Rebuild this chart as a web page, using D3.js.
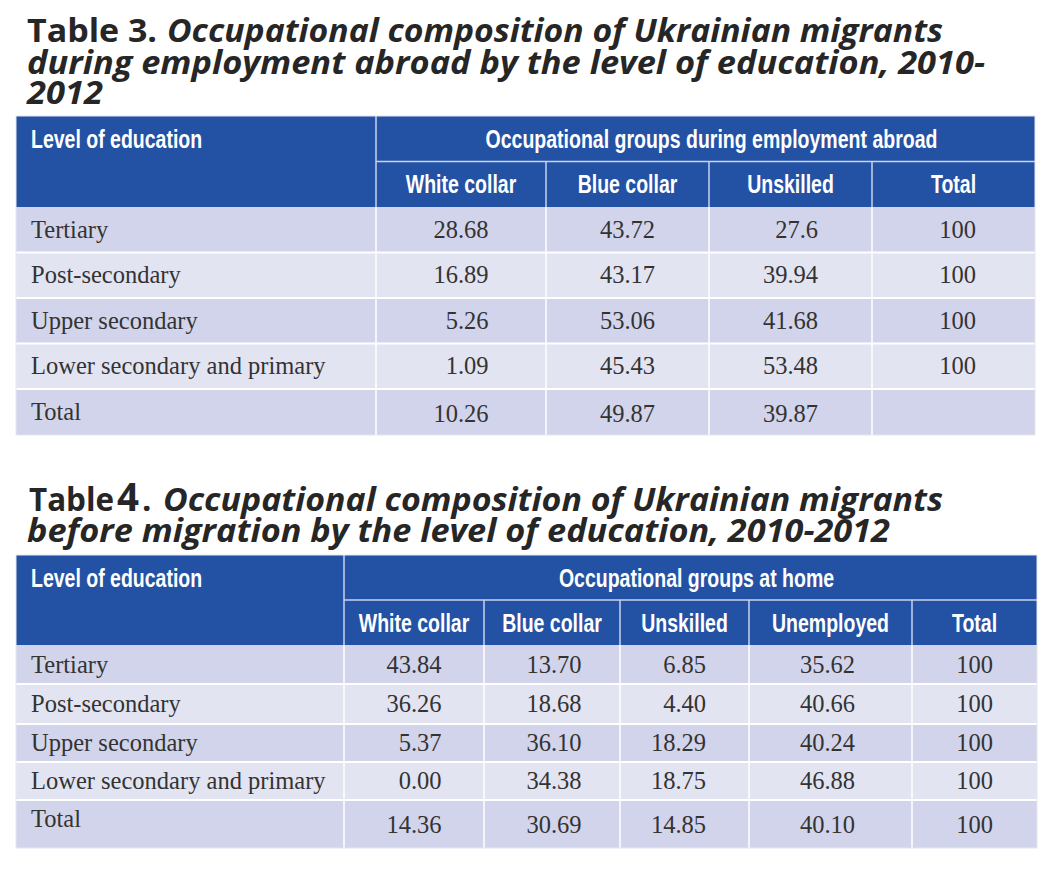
<!DOCTYPE html>
<html><head><meta charset="utf-8">
<script src="https://cdn.jsdelivr.net/npm/d3@7"></script>
<style>body{margin:0;background:#fff}</style>
</head><body><svg id="c" width="1059" height="877"></svg>
<script>
// ---------- Table 3 data ----------
const t3Label = "Table 3.";
const t3TitleLines = ["Occupational composition of Ukrainian migrants",
  "during employment abroad by the level of education, 2010-", "2012"];
const t3Group = "Occupational groups during employment abroad";
const t3Categories = ["Tertiary", "Post-secondary", "Upper secondary", "Lower secondary and primary", "Total"];
const t3Columns = ["White collar", "Blue collar", "Unskilled", "Total"];
const t3WhiteCollar = [28.68, 16.89, 5.26, 1.09, 10.26];
const t3BlueCollar = [43.72, 43.17, 53.06, 45.43, 49.87];
const t3Unskilled = [27.6, 39.94, 41.68, 53.48, 39.87];
const t3Total = [100, 100, 100, 100, null];

// ---------- Table 4 data ----------
const t4Label = ["Table", "4", "."];
const t4TitleLines = ["Occupational composition of Ukrainian migrants",
  "before migration by the level of education, 2010-2012"];
const t4Group = "Occupational groups at home";
const t4Categories = ["Tertiary", "Post-secondary", "Upper secondary", "Lower secondary and primary", "Total"];
const t4Columns = ["White collar", "Blue collar", "Unskilled", "Unemployed", "Total"];
const t4WhiteCollar = [43.84, 36.26, 5.37, 0.00, 14.36];
const t4BlueCollar = [13.70, 18.68, 36.10, 34.38, 30.69];
const t4Unskilled = [6.85, 4.40, 18.29, 18.75, 14.85];
const t4Unemployed = [35.62, 40.66, 40.24, 46.88, 40.10];
const t4Total = [100, 100, 100, 100, 100];

const firstHeader = "Level of education";

// ---------- styles ----------
const BLUE = "#2352a5", DARK = "#d2d4eb", LIGHT = "#e3e4f2";
const TITLE_FONT = "'Open Sans', 'Noto Sans', sans-serif";
const HEAD_FONT = "'Liberation Sans', Arial, sans-serif";
const BODY_FONT = "'Liberation Serif', 'Times New Roman', serif";
const HEAD_SIZE = 26, HEAD_CONDENSE = 0.75, BODY_SIZE = 24.5, TITLE_SIZE = 33;

const svg = d3.select("#c");

function fitWidth(sel, w) {
  sel.attr("textLength", w).attr("lengthAdjust", "spacingAndGlyphs");
}
function condense(sel, k) {
  sel.each(function () {
    const n = this, w = n.getComputedTextLength();
    d3.select(n).attr("textLength", w * k).attr("lengthAdjust", "spacingAndGlyphs");
  });
}

function drawTable(cfg) {
  const g = svg.append("g");
  const edges = cfg.edges;
  const rowKeys = ["h1", "h2"].concat(cfg.categories);
  const tops = [cfg.top];
  cfg.heights.forEach((h, i) => tops.push(tops[i] + h));
  const y = d3.scaleOrdinal().domain(rowKeys).range(tops.slice(0, -1));
  const hOf = d3.scaleOrdinal().domain(rowKeys).range(cfg.heights);
  const left = edges[0], right = edges[edges.length - 1];
  const bottom = tops[tops.length - 1];

  g.append("rect").attr("x", left).attr("y", y("h1"))
    .attr("width", right - left).attr("height", hOf("h1") + hOf("h2")).attr("fill", BLUE);

  g.selectAll("rect.row").data(cfg.categories).join("rect").attr("class", "row")
    .attr("x", left).attr("y", d => y(d)).attr("width", right - left)
    .attr("height", d => hOf(d)).attr("fill", (d, i) => i % 2 === 0 ? DARK : LIGHT);

  const hl = "#c8d3ee";
  g.append("line").attr("x1", edges[1]).attr("x2", edges[1]).attr("y1", y("h1")).attr("y2", y("h2") + hOf("h2"))
    .attr("stroke", hl).attr("stroke-width", 1.5);
  g.append("line").attr("x1", edges[1]).attr("x2", right).attr("y1", y("h2")).attr("y2", y("h2"))
    .attr("stroke", hl).attr("stroke-width", 1.5);
  g.selectAll("line.hv").data(edges.slice(2, -1)).join("line").attr("class", "hv")
    .attr("x1", d => d).attr("x2", d => d).attr("y1", y("h2")).attr("y2", y("h2") + hOf("h2"))
    .attr("stroke", hl).attr("stroke-width", 1.5);

  g.selectAll("line.bv").data(edges.slice(1, -1)).join("line").attr("class", "bv")
    .attr("x1", d => d).attr("x2", d => d).attr("y1", y(cfg.categories[0])).attr("y2", bottom)
    .attr("stroke", "#fff").attr("stroke-width", 1.5);
  g.selectAll("line.bh").data(cfg.categories.slice(1)).join("line").attr("class", "bh")
    .attr("x1", left).attr("x2", right).attr("y1", d => y(d)).attr("y2", d => y(d))
    .attr("stroke", "#fff").attr("stroke-width", 2);
  g.append("rect").attr("x", left).attr("y", cfg.top).attr("width", right - left)
    .attr("height", bottom - cfg.top).attr("fill", "none").attr("stroke", "#e4e7f3").attr("stroke-width", 1);

  const ht = g.append("g").attr("font-family", HEAD_FONT).attr("font-weight", "bold")
    .attr("font-size", HEAD_SIZE).attr("fill", "#fff");
  ht.append("text").attr("x", left + 15).attr("y", y("h1") + hOf("h1") / 2 + 9).text(firstHeader).call(condense, HEAD_CONDENSE);
  ht.append("text").attr("x", (edges[1] + right) / 2 + cfg.groupShift).attr("y", y("h1") + hOf("h1") / 2 + 9)
    .attr("text-anchor", "middle").text(cfg.group).call(condense, HEAD_CONDENSE);
  ht.selectAll("text.col").data(cfg.columns).join("text").attr("class", "col")
    .attr("x", (d, i) => (edges[i + 1] + edges[i + 2]) / 2).attr("y", y("h2") + hOf("h2") / 2 + 9)
    .attr("text-anchor", "middle").text(d => d).call(condense, HEAD_CONDENSE);

  const bt = g.append("g").attr("font-family", BODY_FONT).attr("font-size", BODY_SIZE).attr("fill", "#333");
  bt.selectAll("text.cat").data(cfg.categories).join("text").attr("class", "cat")
    .attr("x", left + 15)
    .attr("y", (d, i) => y(d) + hOf(d) / 2 + 8 + (i === cfg.categories.length - 1 ? cfg.totalLabelShift : 0))
    .text(d => d);

  cfg.series.forEach((vals, j) => {
    const fmt = cfg.formats[j];
    const cells = vals.map((v, i) => ({ v, cat: cfg.categories[i] })).filter(c => c.v !== null);
    const tx = bt.selectAll(null).data(cells).join("text")
      .attr("y", c => y(c.cat) + hOf(c.cat) / 2 + 8 + (c.cat === "Total" ? cfg.totalValueShift : 0))
      .attr("text-anchor", "end").text(c => fmt(c.v));
    let maxW = 0;
    tx.each(function () { maxW = Math.max(maxW, this.getComputedTextLength()); });
    const cx = (edges[j + 1] + edges[j + 2]) / 2 + cfg.valueShift[j];
    tx.attr("x", cx + maxW / 2);
  });
  return g;
}

// ---------- titles ----------
const tt = svg.append("g").attr("font-family", TITLE_FONT).attr("font-weight", "bold")
  .attr("font-size", TITLE_SIZE).attr("fill", "#262626");
tt.append("text").attr("x", 27).attr("y", 42).text(t3Label).call(fitWidth, 130);
const t3Widths = [776, 958, 76], t3X = [167, 27, 27], t3Y = [42, 74, 104];
t3TitleLines.forEach((s, i) => {
  tt.append("text").attr("x", t3X[i]).attr("y", t3Y[i]).attr("font-style", "italic").text(s).call(fitWidth, t3Widths[i]);
});
tt.append("text").attr("x", 29).attr("y", 511).text(t4Label[0]).call(fitWidth, 85);
tt.append("text").attr("x", 117).attr("y", 511).attr("font-size", 40).text(t4Label[1]).call(fitWidth, 22);
tt.append("text").attr("x", 142).attr("y", 511).text(t4Label[2]);
const t4Widths = [780, 863], t4X = [163, 27], t4Y = [511, 542];
t4TitleLines.forEach((s, i) => {
  tt.append("text").attr("x", t4X[i]).attr("y", t4Y[i]).attr("font-style", "italic").text(s).call(fitWidth, t4Widths[i]);
});

const fmt3 = v => String(v);
const fmt2 = d3.format(".2f");
const fmtInt = d3.format("d");

drawTable({
  top: 116,
  heights: [45.5, 45.5, 45.5, 45.5, 45.5, 45.5, 46],
  edges: [16, 376, 546, 709, 872, 1035],
  categories: t3Categories,
  columns: t3Columns,
  group: t3Group,
  groupShift: 6,
  series: [t3WhiteCollar, t3BlueCollar, t3Unskilled, t3Total],
  formats: [fmt3, fmt3, fmt3, fmtInt],
  valueShift: [0, 0, 0, 4],
  totalLabelShift: 0,
  totalValueShift: 2
});

drawTable({
  top: 555,
  heights: [45, 45, 39, 40, 38, 38, 48],
  edges: [16, 344, 484, 620, 749, 912, 1037],
  categories: t4Categories,
  columns: t4Columns,
  group: t4Group,
  groupShift: 6,
  series: [t4WhiteCollar, t4BlueCollar, t4Unskilled, t4Unemployed, t4Total],
  formats: [fmt2, fmt2, fmt2, fmt2, fmtInt],
  valueShift: [0, 2, -6, -3, 0],
  totalLabelShift: -5,
  totalValueShift: 1
});
</script></body></html>
